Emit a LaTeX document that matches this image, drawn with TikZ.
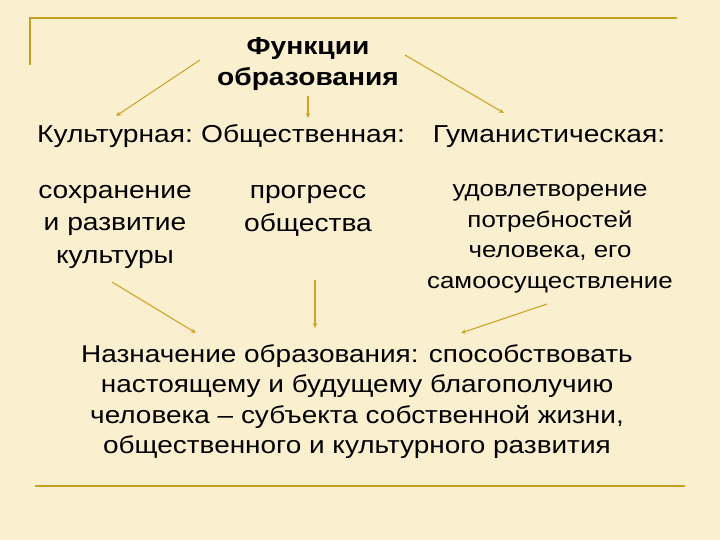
\documentclass[tikz,border=0pt]{standalone}
\usepackage{fontspec}
\setmainfont{Liberation Sans}[FakeStretch=1.15]
\usetikzlibrary{arrows.meta}
\definecolor{bgc}{RGB}{250,239,207}
\definecolor{goldline}{RGB}{200,160,40}
\definecolor{goldarrow}{RGB}{205,165,45}
\tikzset{
  txt/.style={inner sep=0pt, anchor=base, align=center, text=black},
  bigtxt/.style={txt, font=\fontsize{24.5}{32.5}\selectfont},
  smalltxt/.style={txt, font=\fontsize{22.5}{30.4}\selectfont},
  titletxt/.style={txt, font=\fontsize{24.5}{31}\selectfont\bfseries},
  framel/.style={goldline, line width=1.6pt},
  arr/.style={goldarrow, line width=1.1pt, -{Stealth[length=5pt,width=4.5pt]}}
}
\begin{document}
\begin{tikzpicture}[x=1pt,y=-1pt]
\fill[bgc] (0,0) rectangle (720,540);
\useasboundingbox (0,0) rectangle (720,540);
% frame
\draw[framel] (30,65) -- (30,18) -- (677,18);
\draw[framel] (35,486) -- (685,486);
% title (anchor = baseline of last line)
\node[titletxt] (title) at (308,86) {Функции\\образования};
% row
\node[bigtxt] (kult) at (115,143) {Культурная:};
\node[bigtxt] (obsch) at (303,143) {Общественная:};
\node[bigtxt] (gum) at (549,143) {Гуманистическая:};
% details
\node[bigtxt] (kultd) at (115,263) {сохранение\\и развитие\\культуры};
\node[bigtxt] (obschd) at (308,231) {прогресс\\общества};
\node[smalltxt] (gumd) at (550,288) {удовлетворение\\потребностей\\человека, его\\самоосуществление};
% bottom
\node[bigtxt, font=\fontsize{24.3}{30.5}\selectfont] (naz) at (357,453.5) {Назначение образования: способствовать\\настоящему и будущему благополучию\\человека – субъекта собственной жизни,\\общественного и культурного развития};
% arrow coordinates
\coordinate (a1s) at (200,60);  \coordinate (a1e) at (116,116);
\coordinate (a2s) at (308,96);  \coordinate (a2e) at (308,118);
\coordinate (a3s) at (405,55);  \coordinate (a3e) at (504,113);
\coordinate (a4s) at (112,282); \coordinate (a4e) at (196,333);
\coordinate (a5s) at (315,280); \coordinate (a5e) at (315,328);
\coordinate (a6s) at (547,304); \coordinate (a6e) at (461,333);
\draw[arr] (a1s) -- (a1e);
\draw[arr] (a2s) -- (a2e);
\draw[arr] (a3s) -- (a3e);
\draw[arr] (a4s) -- (a4e);
\draw[arr] (a5s) -- (a5e);
\draw[arr] (a6s) -- (a6e);
\end{tikzpicture}
\end{document}
